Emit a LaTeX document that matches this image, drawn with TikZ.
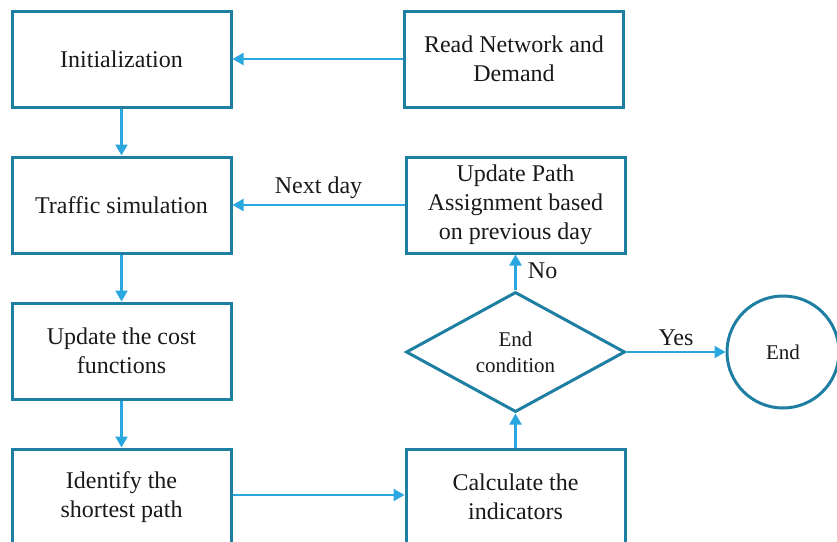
\documentclass[tikz,border=0pt]{standalone}
\usepackage{fontspec}
\setmainfont{Liberation Serif}
\usetikzlibrary{shapes.geometric,arrows.meta}
\definecolor{boxc}{HTML}{1E7FA3}
\definecolor{arrc}{HTML}{2AA7DF}
\begin{document}
\begin{tikzpicture}[x=1pt,y=-1pt,
  stepbox/.style={draw=boxc,line width=3pt,minimum width=219pt,minimum height=96pt,inner sep=0pt,align=center,font=\fontsize{24}{29}\selectfont,text=black!90},
  decbox/.style={draw=boxc,line width=3pt,shape=diamond,minimum width=219pt,minimum height=112pt,inner sep=0pt,align=center,font=\fontsize{21}{26}\selectfont,text=black!90},
  endbox/.style={draw=boxc,line width=3pt,shape=circle,minimum size=112pt,inner sep=0pt,font=\fontsize{21}{26}\selectfont,text=black!90},
  conn/.style={draw=arrc,line width=2.2pt,-{Triangle[length=11pt,width=12pt]}},
  lbl/.style={font=\fontsize{24}{29}\selectfont,text=black!90}]
\useasboundingbox (0,0) rectangle (837,541);
\begin{scope}
\clip (0,0) rectangle (837,541);
\node[stepbox] (init) at (121.5,59) {Initialization};
\node[stepbox] (read) at (514,59) {Read Network and\\Demand};
\node[stepbox] (traffic) at (121.5,205) {Traffic simulation};
\node[stepbox] (upath) at (515.5,205) {Update Path\\Assignment based\\on previous day};
\node[stepbox] (cost) at (121.5,351) {Update the cost\\functions};
\node[stepbox] (ident) at (121.5,497) {Identify the\\shortest path};
\node[stepbox] (calc) at (515.5,497) {Calculate the\\indicators};
\node[decbox] (cond) at (515.5,352) {End\\condition};
\node[endbox] (end) at (783,352) {End};
\draw[conn] (read) -- (init);
\draw[conn] (init) -- (traffic);
\draw[conn] (upath) -- node[lbl,above,yshift=2pt] {Next day} (traffic);
\draw[conn] (traffic) -- (cost);
\draw[conn] (cost) -- (ident);
\draw[conn] (ident.east |- 0,495) -- (calc.west |- 0,495);
\draw[conn] (calc) -- (cond);
\draw[conn] (cond) -- node[lbl,right,xshift=8pt,yshift=2pt] {No} (upath);
\draw[conn] (cond) -- node[lbl,above,yshift=2pt] {Yes} (end);
\end{scope}
\end{tikzpicture}
\end{document}
